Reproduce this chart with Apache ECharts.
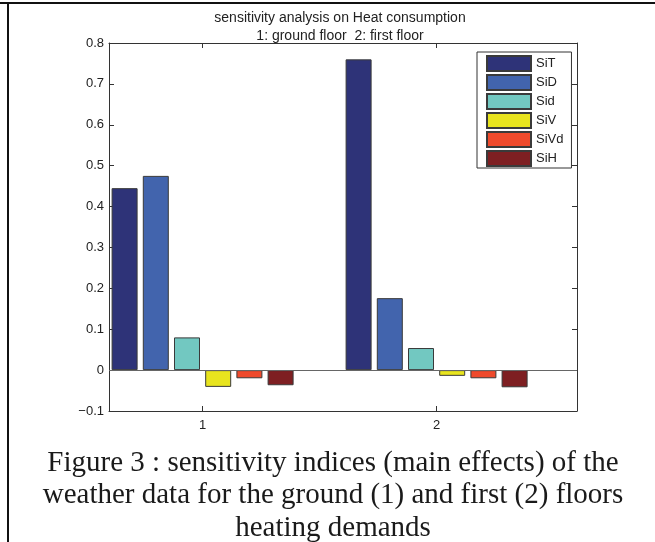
<!DOCTYPE html>
<html>
<head>
<meta charset="utf-8">
<script src="https://cdn.jsdelivr.net/npm/echarts@6/dist/echarts.min.js"></script>
<style>
html,body{margin:0;padding:0;background:#fff}
#chart{width:655px;height:542px}
</style>
</head>
<body>
<div id="chart"></div>
<script>
// 数据：两层楼（1: ground, 2: first）的主效应灵敏度指数
const floors = [1, 2];
const seriesNames = ['SiT', 'SiD', 'Sid', 'SiV', 'SiVd', 'SiH'];
const SiT  = [0.445, 0.760];
const SiD  = [0.475, 0.176];
const Sid  = [0.080, 0.054];
const SiV  = [-0.041, -0.014];
const SiVd = [-0.020, -0.020];
const SiH  = [-0.037, -0.042];
const yTickValues = [-0.1, 0, 0.1, 0.2, 0.3, 0.4, 0.5, 0.6, 0.7, 0.8];
const xTickValues = [1, 2];
const titleLines = ['sensitivity analysis on Heat consumption', '1: ground floor  2: first floor'];
const captionLines = [
    'Figure 3 : sensitivity indices (main effects) of the',
    'weather data for the ground (1) and first (2) floors',
    'heating demands'
];

const values = [SiT, SiD, Sid, SiV, SiVd, SiH];
const colors = ['#2e3378', '#4264ad', '#72c8c1', '#e8e41e', '#ef4a2c', '#7e1f22'];
const axisColor = '#333';

const chart = echarts.init(document.getElementById('chart'));

function xAxisCfg(pos, showLabel) {
    return {
        type: 'value', position: pos, min: 0.6, max: 2.6,
        axisLine: { show: true, onZero: false, lineStyle: { color: axisColor, width: 1 } },
        axisTick: { show: true, inside: true, length: 5, customValues: xTickValues, lineStyle: { color: axisColor } },
        axisLabel: { show: showLabel, customValues: xTickValues, margin: 8, fontSize: 13,
                     fontFamily: 'Liberation Sans, Arial', color: '#222' },
        splitLine: { show: false }
    };
}
function yAxisCfg(pos, showLabel) {
    return {
        type: 'value', position: pos,
        min: yTickValues[0], max: yTickValues[yTickValues.length - 1], interval: 0.1,
        axisLine: { show: true, onZero: false, lineStyle: { color: axisColor, width: 1 } },
        axisTick: { show: true, inside: true, length: 5, lineStyle: { color: axisColor } },
        axisLabel: { show: showLabel, margin: 5, fontSize: 13, fontFamily: 'Liberation Sans, Arial', color: '#222',
                     formatter: v => { const s = (Math.round(v * 10) / 10).toString(); return s.replace('-', '\u2212'); } },
        splitLine: { show: false }
    };
}

const series = seriesNames.map((name, i) => ({
    name: name,
    type: 'bar',
    xAxisIndex: 0, yAxisIndex: 0,
    data: floors.map((f, j) => [f, values[i][j]]),
    barWidth: 26,
    barGap: '20%',
    itemStyle: { color: colors[i], borderColor: '#3a3a3a', borderWidth: 1 },
    emphasis: { disabled: true },
    markLine: i === 0 ? {
        silent: true, symbol: 'none', label: { show: false },
        lineStyle: { color: '#666', type: 'solid', width: 1 },
        data: [{ yAxis: 0 }]
    } : undefined
}));

const option = {
    animation: false,
    grid: { left: 109, top: 43, width: 468, height: 368 },
    legend: {
        orient: 'vertical', left: 477, top: 52,
        data: seriesNames,
        icon: 'rect', itemWidth: 44, itemHeight: 15, itemGap: 2,
        padding: [3, 8, 1, 9],
        borderColor: '#333', borderWidth: 1, backgroundColor: '#fff',
        textStyle: { fontSize: 13, fontFamily: 'Liberation Sans, Arial', color: '#222' },
        selectedMode: false
    },
    xAxis: [xAxisCfg('bottom', true), xAxisCfg('top', false)],
    yAxis: [yAxisCfg('left', true), yAxisCfg('right', false)],
    series: series,
    graphic: [
        { type: 'line', shape: { x1: 0, y1: 3, x2: 655, y2: 3 }, style: { stroke: '#111', lineWidth: 2 } },
        { type: 'line', shape: { x1: 8, y1: 3, x2: 8, y2: 542 }, style: { stroke: '#111', lineWidth: 2 } },
        ...titleLines.map((t, i) => ({
            type: 'text', x: 340, y: 18 + i * 18,
            style: { text: t, align: 'center', verticalAlign: 'middle', fontSize: 14,
                     fontFamily: 'Liberation Sans, Arial', fill: '#222' }
        })),
        ...captionLines.map((t, i) => ({
            type: 'text', x: 333, y: 463 + i * 32.5,
            style: { text: t, align: 'center', verticalAlign: 'middle', fontSize: 29,
                     fontFamily: 'Liberation Serif, Times New Roman', fill: '#1a1a1a' }
        }))
    ]
};

chart.setOption(option);
window.addEventListener('resize', () => chart.resize());
</script>
</body>
</html>
